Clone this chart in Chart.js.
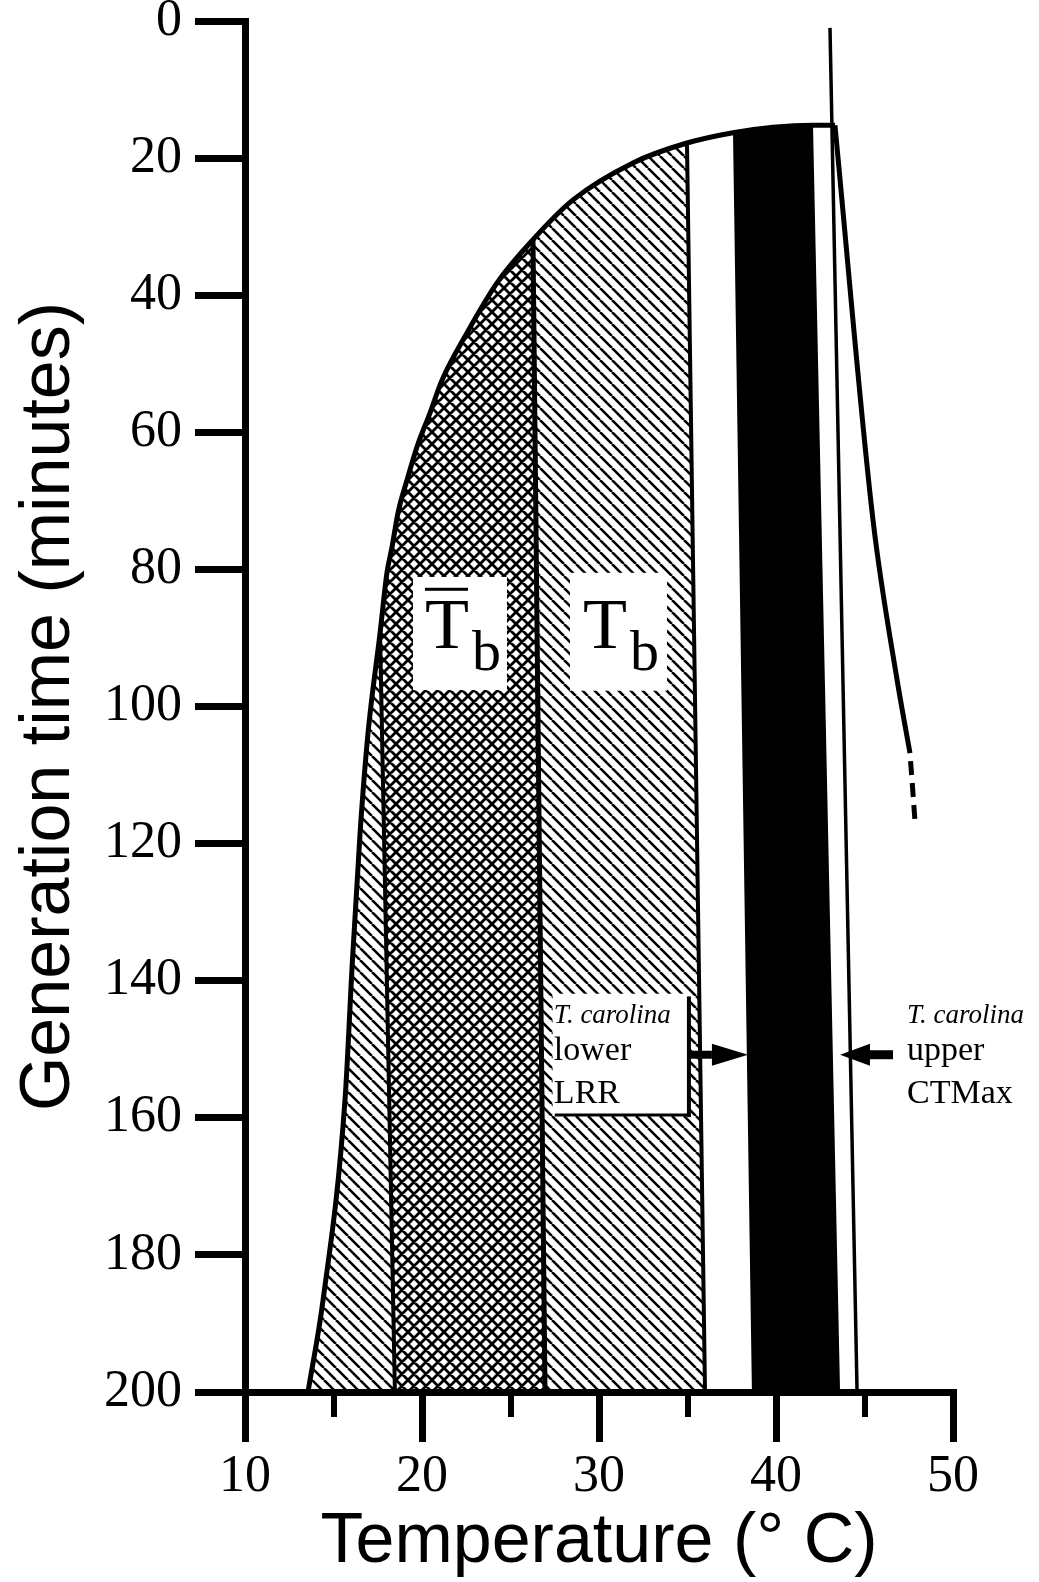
<!DOCTYPE html>
<html>
<head>
<meta charset="utf-8">
<script src="https://cdn.jsdelivr.net/npm/chart.js@4.4.1/dist/chart.umd.min.js"></script>
<style>
  html, body { margin: 0; padding: 0; background: #fff; }
</style>
</head>
<body>
<canvas id="genChart" width="1039" height="1582"></canvas>
<script>
// growth curve: generation time (minutes) against temperature (deg C)
const curveTemp = [13.56, 14.41, 15.65, 16.05, 16.50, 16.95, 17.63, 18.02, 18.31, 18.64,
                   19.15, 19.72, 20.45, 21.13, 22.54, 24.24, 26.27, 28.53, 31.92, 34.97,
                   37.57, 39.83, 42.09, 43.33];
const curveTime = [200, 186.6, 157.4, 138.0, 118.5, 103.9, 89.3, 80.5, 76.7, 71.8,
                   67.0, 62.1, 57.2, 52.4, 45.5, 38.2, 31.9, 26.1, 20.7, 17.8,
                   16.3, 15.5, 15.2, 15.2];

// fall-off above the optimum, solid part then the dashed extension
const dropTemp = [43.33, 45.48, 46.84, 47.57];
const dropTime = [15.2, 72.8, 96.1, 106.8];
const dropDashTemp = [47.57, 47.85];
const dropDashTime = [106.8, 116.6];

// CTMax marker
const ctmaxTemp = [43.05, 44.58];
const ctmaxTime = [1.0, 200];

// band edges: temperature where each edge meets the curve and where it meets the axis
const edgeTopTemp = [17.63, 26.27, 34.97, 37.57, 42.09];
const edgeBottomTemp = [18.47, 26.95, 35.99, 38.64, 43.62];

const tempTicks = [10, 20, 30, 40, 50];
const tempMinorTicks = [15, 25, 35, 45];
const timeTicks = [0, 20, 40, 60, 80, 100, 120, 140, 160, 180, 200];
const axisBottom = 200;

const serif = '"Liberation Serif", "Times New Roman", serif';
const sans = '"Liberation Sans", Arial, Helvetica, sans-serif';

function pts(xs, ys) {
  return xs.map((t, i) => ({ x: t, y: ys[i] }));
}

function curveSlice(t0, t1) {
  return pts(curveTemp, curveTime).filter((p) => p.x >= t0 && p.x <= t1);
}

// closed outline of the band between edge i and edge j, following the curve on top
function band(i, j) {
  return [
    { x: edgeBottomTemp[i], y: axisBottom },
    ...curveSlice(edgeTopTemp[i], edgeTopTemp[j]),
    { x: edgeBottomTemp[j], y: axisBottom },
  ];
}

// straight edge from the curve down to the axis
function edge(i) {
  const top = curveTime[curveTemp.indexOf(edgeTopTemp[i])];
  return [{ x: edgeTopTemp[i], y: top }, { x: edgeBottomTemp[i], y: axisBottom }];
}

const canvas = document.getElementById('genChart');
const ctx = canvas.getContext('2d');

function hatch(cross, step, width) {
  const c = document.createElement('canvas');
  c.width = c.height = step;
  const g = c.getContext('2d');
  g.strokeStyle = '#000';
  g.lineWidth = width;
  g.beginPath();
  for (const k of [-1, 0, 1]) {
    g.moveTo(k * step, 0);
    g.lineTo(k * step + step, step);
    if (cross) {
      g.moveTo(k * step + step, 0);
      g.lineTo(k * step, step);
    }
  }
  g.stroke();
  return ctx.createPattern(c, 'repeat');
}

const singleHatch = hatch(false, 12, 2.6);
const crossHatch = hatch(true, 12, 2.8);

const coldBand = [...curveSlice(curveTemp[0], edgeTopTemp[0]), { x: edgeBottomTemp[0], y: axisBottom }];

const notesPlugin = {
  id: 'bandNotes',
  afterDatasetsDraw(chart) {
    const c = chart.ctx;
    const px = (t) => chart.scales.x.getPixelForValue(t);
    const py = (m) => chart.scales.y.getPixelForValue(m);
    const clearBox = (t0, m0, t1, m1) =>
      c.fillRect(px(t0), py(m0), px(t1) - px(t0), py(m1) - py(m0));

    c.save();
    c.fillStyle = '#fff';
    clearBox(19.49, 81.1, 24.80, 97.6);
    clearBox(28.36, 80.5, 33.84, 97.7);
    clearBox(27.38, 141.9, 35.08, 159.6);

    c.fillStyle = '#000';
    c.strokeStyle = '#000';
    c.textAlign = 'left';
    c.textBaseline = 'alphabetic';

    // T-bar-b and T-b labels
    const tb = (t0, bar) => {
      c.font = `72px ${serif}`;
      c.fillText('T', px(t0), py(91.5));
      const w = c.measureText('T').width;
      c.font = `58px ${serif}`;
      c.fillText('b', px(t0) + w + 3, py(94.7));
      if (bar) c.fillRect(px(t0), py(82.9) - 1.5, w - 1, 3);
    };
    tb(20.17, true);
    tb(29.10, false);

    const note = (t0, a, b) => {
      c.font = `italic 27px ${serif}`;
      c.fillText('T. carolina', px(t0), py(146.1));
      c.font = `34px ${serif}`;
      c.fillText(a, px(t0), py(151.6));
      c.fillText(b, px(t0), py(157.8));
    };
    note(27.45, 'lower', 'LRR');
    note(47.40, 'upper', 'CTMax');

    // bracket round the lower note
    c.lineWidth = 4;
    c.beginPath();
    c.moveTo(px(35.08), py(142.3));
    c.lineTo(px(35.08), py(159.9));
    c.stroke();
    c.lineWidth = 3;
    c.beginPath();
    c.moveTo(px(27.5), py(159.6));
    c.lineTo(px(35.08), py(159.6));
    c.stroke();

    const arrow = (tail, base, tip, m, w) => {
      const yy = py(m);
      c.lineWidth = w;
      c.beginPath();
      c.moveTo(px(tail), yy);
      c.lineTo(px(base), yy);
      c.stroke();
      c.beginPath();
      c.moveTo(px(tip), yy);
      c.lineTo(px(base), yy - 11);
      c.lineTo(px(base), yy + 11);
      c.closePath();
      c.fill();
    };
    arrow(35.08, 36.38, 38.42, 150.8, 8);
    arrow(46.61, 45.31, 43.62, 150.8, 9);
    c.restore();
  },
};

const line = (data, width, extra) => Object.assign({
  data, showLine: true, fill: false, borderColor: '#000', borderWidth: width,
  pointRadius: 0, tension: 0,
}, extra);

new Chart(ctx, {
  type: 'scatter',
  data: {
    datasets: [
      line(pts(curveTemp, curveTime), 5, { cubicInterpolationMode: 'monotone', order: 0 }),
      line(pts(dropTemp, dropTime), 5, { cubicInterpolationMode: 'monotone', order: 0 }),
      line(pts(dropDashTemp, dropDashTime), 5, { borderDash: [14, 8], borderDashOffset: 14, order: 0 }),
      line(pts(ctmaxTemp, ctmaxTime), 3.5, { order: 1 }),
      line(edge(0), 4, { order: 2 }),
      line(edge(1), 5, { order: 2 }),
      line(edge(2), 4, { order: 2 }),
      line(coldBand, 0, { fill: 'shape', backgroundColor: singleHatch, order: 3 }),
      line(band(0, 1), 0, { fill: 'shape', backgroundColor: crossHatch, order: 3 }),
      line(band(1, 2), 0, { fill: 'shape', backgroundColor: singleHatch, order: 3 }),
      line(band(3, 4), 0, { fill: 'shape', backgroundColor: '#000', order: 3 }),
    ],
  },
  options: {
    responsive: false,
    animation: false,
    devicePixelRatio: 1,
    events: [],
    layout: { padding: { top: 21, right: 86, left: 0, bottom: 0 }, autoPadding: false },
    plugins: {
      legend: { display: false },
      tooltip: { enabled: false },
    },
    scales: {
      x: {
        type: 'linear',
        position: 'bottom',
        min: 10,
        max: 50,
        z: 1,
        afterBuildTicks: (s) => { s.ticks = tempTicks.map((v) => ({ value: v })); },
        afterFit: (s) => { s.height = 190; s.paddingLeft = 0; s.paddingRight = 0; },
        ticks: { color: '#000', font: { family: serif, size: 52 }, padding: 4, maxRotation: 0 },
        grid: { drawOnChartArea: false, color: '#000', lineWidth: 7, tickLength: 50 },
        border: { color: '#000', width: 7 },
        title: {
          display: true,
          text: 'Temperature (° C)',
          color: '#000',
          font: { family: sans, size: 70, lineHeight: 1 },
          padding: { top: 0, bottom: 4 },
        },
      },
      xMinor: {
        type: 'linear',
        axis: 'x',
        position: { y: axisBottom },
        min: 10,
        max: 50,
        z: 1,
        afterBuildTicks: (s) => { s.ticks = tempMinorTicks.map((v) => ({ value: v })); },
        ticks: { display: false },
        grid: { drawOnChartArea: false, color: '#000', lineWidth: 6, tickLength: 25 },
        border: { display: false },
      },
      y: {
        type: 'linear',
        reverse: true,
        min: 0,
        max: 200,
        z: 1,
        afterBuildTicks: (s) => { s.ticks = timeTicks.map((v) => ({ value: v })); },
        afterFit: (s) => { s.width = 245; s.paddingTop = 0; s.paddingBottom = 0; },
        ticks: { color: '#000', font: { family: serif, size: 52 }, padding: 13 },
        grid: { drawOnChartArea: false, color: '#000', lineWidth: 7, tickLength: 50 },
        border: { color: '#000', width: 7 },
        title: {
          display: true,
          text: 'Generation time (minutes)',
          color: '#000',
          font: { family: sans, size: 70, lineHeight: 1 },
          padding: { top: 15, bottom: 0 },
        },
      },
    },
  },
  plugins: [notesPlugin],
});
</script>
</body>
</html>
